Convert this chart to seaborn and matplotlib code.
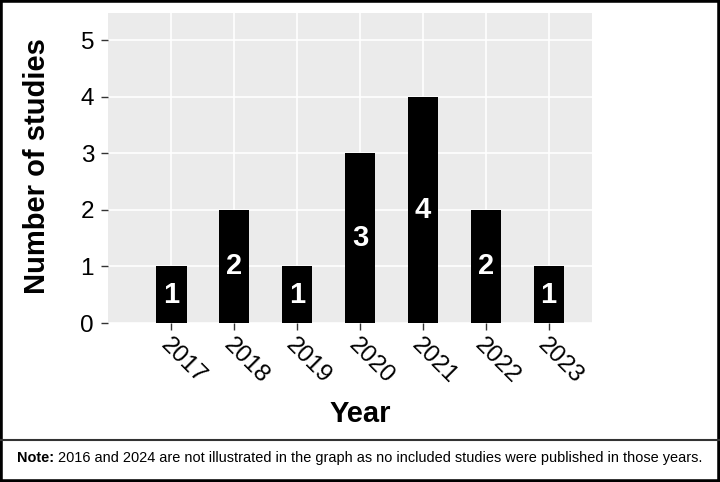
import matplotlib
matplotlib.use("Agg")
import matplotlib.pyplot as plt
import seaborn as sns
import pandas as pd
from matplotlib.patches import Rectangle
from matplotlib.lines import Line2D

years = ["2017", "2018", "2019", "2020", "2021", "2022", "2023"]
counts = [1, 2, 1, 3, 4, 2, 1]
y_ticks = [0, 1, 2, 3, 4, 5]
note_bold = "Note:"
note_text = " 2016 and 2024 are not illustrated in the graph as no included studies were published in those years."

sns.set_style("darkgrid", {"axes.facecolor": "#EBEBEB", "grid.color": "white"})
plt.rcParams["font.family"] = ["Liberation Sans", "DejaVu Sans"]
plt.rcParams["text.color"] = "black"

df = pd.DataFrame({"Year": years, "Count": counts})

fig = plt.figure(figsize=(7.2, 4.82), dpi=100)
ax = fig.add_axes([108/720, 1-323/482, (592-108)/720, (323-13)/482])
sns.barplot(data=df, x="Year", y="Count", color="black", width=0.48,
            saturation=1, ax=ax, edgecolor="black", linewidth=0)

for i, v in enumerate(counts):
    ax.text(i, v/2, str(v), color="white", fontsize=21, fontweight="bold",
            ha="center", va="center")

ax.set_xlim(-1.01, 6.69)
ax.set_ylim(0, 5.48)
ax.set_yticks(y_ticks)
ax.grid(True, color="white", linewidth=1.2)
ax.set_axisbelow(True)
for s in ax.spines.values():
    s.set_visible(False)

ax.tick_params(axis="both", which="major", length=5, width=1, color="#333333",
               labelsize=17.5, labelcolor="black", pad=3, bottom=True, left=True)
ax.tick_params(axis="y", pad=5)
for lab in ax.get_xticklabels():
    lab.set_rotation(-45)
    lab.set_ha("left")
    lab.set_va("top")
    lab.set_rotation_mode("anchor")

ax.set_xlabel("")
ax.set_ylabel("")
fig.text(37/720, 1-166/482, "Number of studies", rotation=90, fontsize=21,
         fontweight="bold", ha="center", va="center", color="black")
fig.text(360/720, 1-414/482, "Year", fontsize=21, fontweight="bold",
         ha="center", va="center", color="black")

# note
t1 = fig.text(17/720, 1-458/482, note_bold, fontsize=10.45, fontweight="bold",
              ha="left", va="center", color="black")
fig.canvas.draw()
bb = t1.get_window_extent()
fig.text(bb.x1/720, 1-458/482, note_text, fontsize=10.45, ha="left", va="center",
         color="black")

# separator & border
fig.add_artist(Line2D([0, 1], [1-440/482, 1-440/482], transform=fig.transFigure,
                      color="#333333", linewidth=1.5))
fig.add_artist(Rectangle((0, 0), 1, 1, transform=fig.transFigure, fill=False,
                         edgecolor="black", linewidth=4))

fig.savefig("out.png", dpi=100)
